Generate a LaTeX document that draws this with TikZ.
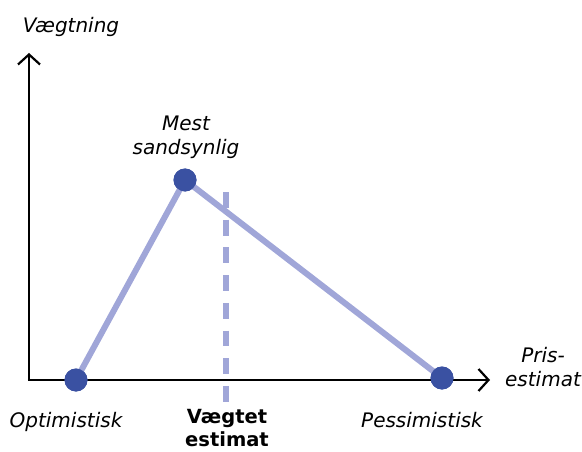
\documentclass[tikz,border=0pt]{standalone}
\usepackage{fontspec}
\setmainfont{DejaVu Sans}
\usetikzlibrary{arrows.meta}
\definecolor{lav}{HTML}{A0A6D8}
\definecolor{dotblue}{HTML}{3A51A2}
\begin{document}
\begin{tikzpicture}[x=1pt,y=-1pt,
  axis/.style={line width=2.2pt,-{Straight Barb[length=10pt,width=22pt,line width=2.2pt]}},
  conn/.style={draw=lav,line width=6pt},
  pt/.style={circle,fill=dotblue,minimum size=23pt,inner sep=0pt},
  lbl/.style={font=\fontsize{20}{24}\selectfont\itshape,align=center,anchor=base,inner sep=0pt},
  blbl/.style={font=\fontsize{19.5}{23}\selectfont\bfseries,align=center,anchor=base,inner sep=0pt}]
\useasboundingbox (0,0) rectangle (582,452);
\coordinate (orig) at (29,380);
\coordinate (ytip) at (29,53);
\coordinate (xtip) at (490,380);
\coordinate (dtop) at (226,192);
\coordinate (dbot) at (226,403);
\draw[axis] (orig) -- (ytip);
\draw[axis] ([xshift=-1.1pt]orig) -- (xtip);
\draw[draw=lav,line width=5.5pt,dash pattern=on 15.8pt off 11.9pt] (dtop) -- (dbot);
\node[pt] (opt) at (76,380) {};
\node[pt] (mest) at (185,180) {};
\node[pt] (pes) at (442,378) {};
\draw[conn] (opt.center) -- (mest.center) -- (pes.center);
\node[pt] at (opt) {};
\node[pt] at (mest) {};
\node[pt] at (pes) {};
\node[lbl] (lv) at (71,33) {Vægtning};
\node[lbl] (lm) at (186,154) {Mest\\sandsynlig};
\node[lbl] (lo) at (66,427) {Optimistisk};
\node[blbl] (lw) at (227,446) {Vægtet\\estimat};
\node[lbl] (lp) at (422,427) {Pessimistisk};
\node[lbl] (lx) at (543,386) {Pris-\\estimat};
\end{tikzpicture}
\end{document}
